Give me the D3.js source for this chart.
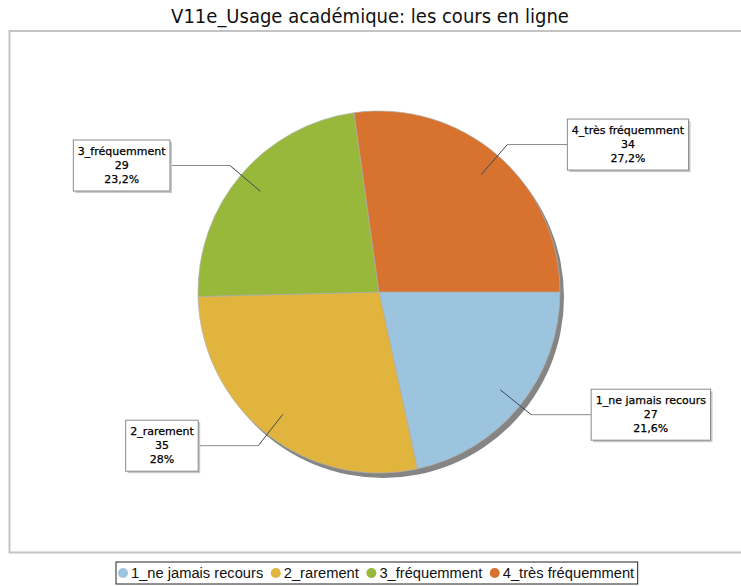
<!DOCTYPE html>
<html>
<head>
<meta charset="utf-8">
<script src="https://cdn.jsdelivr.net/npm/d3@7"></script>
<style>
  body { margin: 0; background: #fff; }
</style>
</head>
<body>
<div id="chart-area"></div>
<script>
let categories = ["1_ne jamais recours", "2_rarement", "3_fréquemment", "4_très fréquemment"]
let counts = [27, 35, 29, 34]
let percentLabels = ["21,6%", "28%", "23,2%", "27,2%"]
let colors = ["#9dc4de", "#e1b43d", "#98b83c", "#d8732f"]
let chartTitle = "V11e_Usage académique: les cours en ligne"

let width = 741
let height = 586
let cx = 379, cy = 292, radius = 181

let svg = d3.select("#chart-area").append("svg")
  .attr("width", width)
  .attr("height", height)

svg.append("text")
  .attr("x", 370)
  .attr("y", 23)
  .attr("text-anchor", "middle")
  .attr("font-family", "DejaVu Sans Condensed, DejaVu Sans")
  .attr("font-size", 20)
  .attr("fill", "#111")
  .text(chartTitle)

// plot area frame (open on the right)
svg.append("path")
  .attr("d", "M745,31 H9.5 V552.5 H745")
  .attr("fill", "none")
  .attr("stroke", "#c4c4c4")
  .attr("stroke-width", 2)

let data = categories.map((c, i) => ({ name: c, count: counts[i], pct: percentLabels[i], color: colors[i] }))

let pie = d3.pie()
  .sort(null)
  .value(d => d.count)
  .startAngle(Math.PI / 2)
  .endAngle(Math.PI / 2 + 2 * Math.PI)

let arcs = pie(data)

let arc = d3.arc().innerRadius(0).outerRadius(radius)

let g = svg.append("g")
  .attr("transform", "translate(" + cx + ", " + cy + ")")

// shadow
g.append("circle")
  .attr("cx", 4)
  .attr("cy", 5)
  .attr("r", radius)
  .attr("fill", "#858585")

g.selectAll("path.slice")
  .data(arcs)
  .enter()
  .append("path")
    .attr("class", "slice")
    .attr("d", arc)
    .attr("fill", d => d.data.color)
    .attr("stroke", "#b0b0b0")
    .attr("stroke-width", 0.7)

// labels with leader lines
let innerArc = d3.arc().innerRadius(radius * 0.86).outerRadius(radius * 0.86)
let outerArc = d3.arc().innerRadius(radius * 1.08).outerRadius(radius * 1.08)

arcs.forEach(d => {
  let p1 = innerArc.centroid(d)
  let p2 = outerArc.centroid(d)
  let mid = (d.startAngle + d.endAngle) / 2
  let right = Math.sin(mid) > 0
  let lineLen = 60
  let p3 = [p2[0] + (right ? lineLen : -lineLen), p2[1]]

  g.append("line")
    .attr("x1", p2[0]).attr("y1", p2[1])
    .attr("x2", p3[0]).attr("y2", p3[1])
    .attr("stroke", "#8a8a8a")
    .attr("stroke-width", 1)
  g.append("line")
    .attr("x1", p1[0]).attr("y1", p1[1])
    .attr("x2", p2[0]).attr("y2", p2[1])
    .attr("stroke", "#3b4a55")
    .attr("stroke-width", 1)

  let lines = [d.data.name, String(d.data.count), d.data.pct]
  let lg = g.append("g")
  let texts = lg.selectAll("text")
    .data(lines)
    .enter()
    .append("text")
      .attr("text-anchor", "middle")
      .attr("font-family", "DejaVu Sans")
      .attr("font-size", 11)
      .attr("fill", "#000")
      .attr("stroke", "#000")
      .attr("stroke-width", 0.25)
      .text(t => t)
  let w = d3.max(texts.nodes(), n => n.getComputedTextLength()) + 9
  let h = 51
  let bx = right ? p3[0] : p3[0] - w
  let by = p3[1] - h / 2
  lg.insert("rect", "text")
    .attr("x", bx + 2).attr("y", by + 2)
    .attr("width", w).attr("height", h)
    .attr("fill", "#c8c8c8")
  lg.insert("rect", "text")
    .attr("x", bx).attr("y", by)
    .attr("width", w).attr("height", h)
    .attr("fill", "#fff")
    .attr("stroke", "#8a8a8a")
  texts.attr("x", bx + w / 2)
    .attr("y", (t, i) => by + 15 + i * 14)
})

// legend
let legend = svg.append("g")
let lx = 116, ly = 562
let legendRect = legend.append("rect")
  .attr("y", ly).attr("height", 22)
  .attr("fill", "#fff")
  .attr("stroke", "#222")
let x = lx + 1
data.forEach(d => {
  legend.append("circle")
    .attr("cx", x + 6).attr("cy", ly + 11)
    .attr("r", 5)
    .attr("fill", d.color)
  let t = legend.append("text")
    .attr("x", x + 14).attr("y", ly + 16)
    .attr("font-family", "Liberation Sans, Arial")
    .attr("font-size", 14.7)
    .attr("fill", "#111")
    .text(d.name)
  x += 14 + t.node().getComputedTextLength() + 6.5
})
legendRect.attr("x", lx).attr("width", x - lx - 3)
</script>
</body>
</html>
